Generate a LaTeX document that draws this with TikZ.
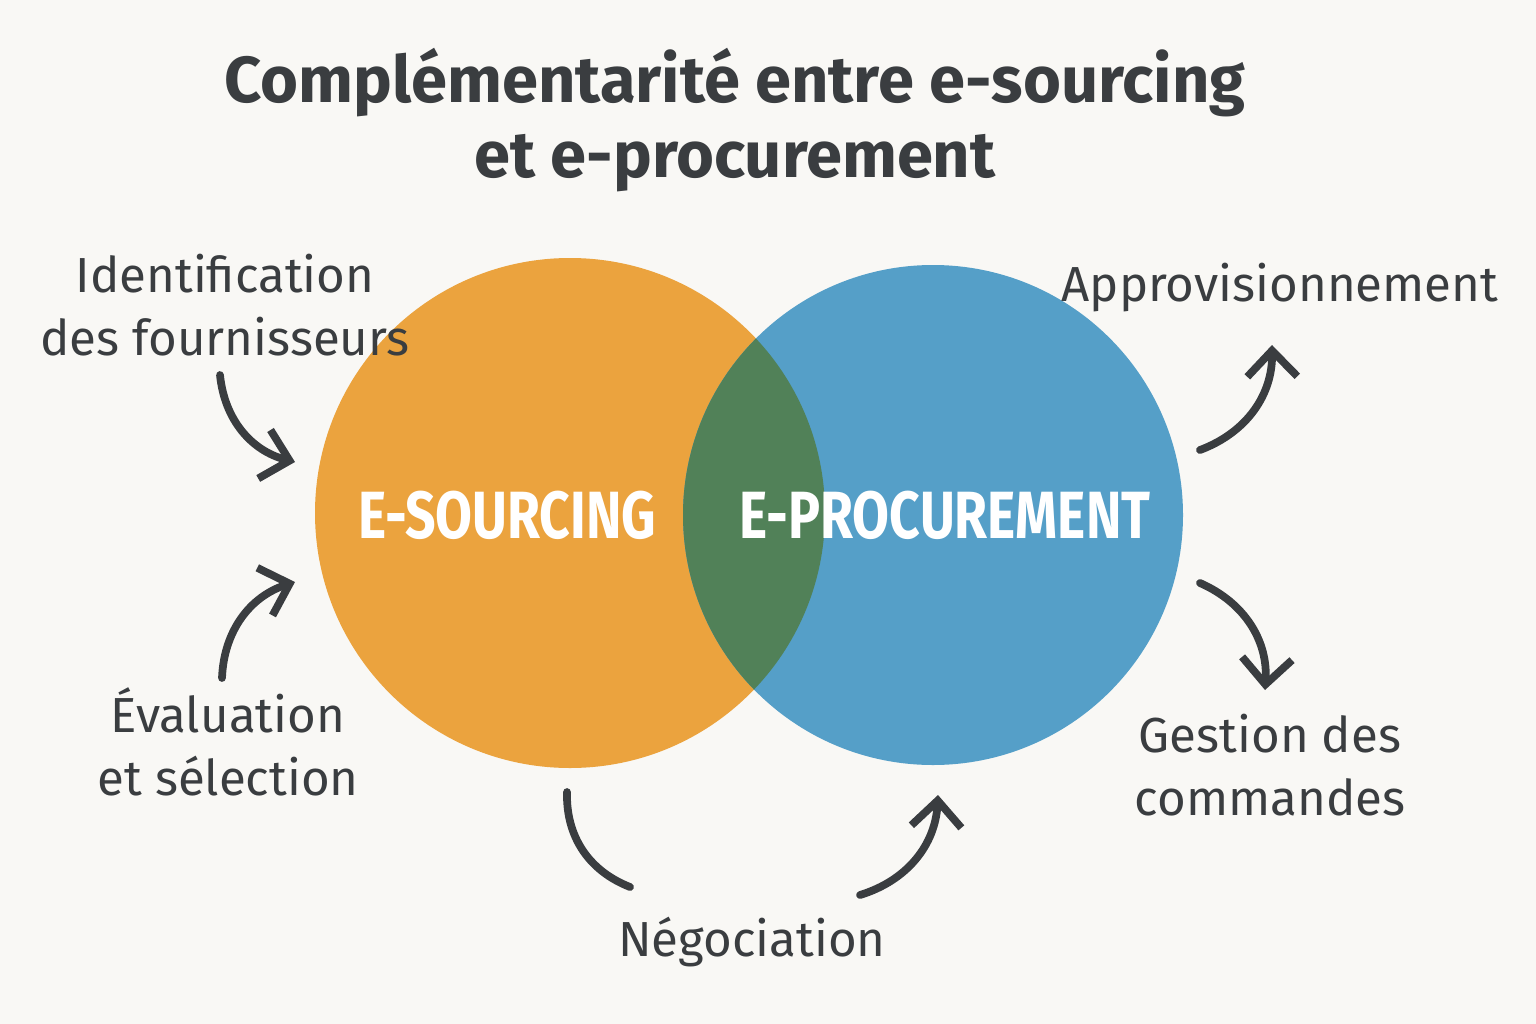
\documentclass[tikz,border=0pt]{standalone}
\usepackage{fontspec}
\setmainfont{Fira Sans}
\usetikzlibrary{arrows.meta}
\definecolor{bgc}{HTML}{F9F8F5}
\definecolor{orangec}{HTML}{EBA33E}
\definecolor{bluec}{HTML}{559FC8}
\definecolor{greenc}{HTML}{518158}
\definecolor{textc}{HTML}{3A3D40}
\tikzset{ lbl/.style = { align = center % side label
        , text = textc
        , font = \fontsize{14}{18}\selectfont
        , inner sep = 0pt
        }
        , big/.style = { text = white % circle name
        , font = \fontsize{19}{22}\selectfont\bfseries
        , transform shape
        , xscale = 0.8
        }
        , arr/.style = { draw = textc
        , line width = 2.2pt
        , line cap = round
        , -{Straight Barb[length=2.6mm,width=5mm]}
        }
        }
\begin{document}
\begin{tikzpicture}[x=0.01cm, y=-0.01cm]
        \fill [bgc] (0,0) rectangle (1536,1024);
        \useasboundingbox (0,0) rectangle (1536,1024);

        \fill [orangec] (570,513) circle (255);
        \fill [bluec] (933,515) circle (250);
        \begin{scope}
            \clip (570,513) circle (255);
            \fill [greenc] (933,515) circle (250);
        \end{scope}

        \node [text=textc, font=\fontsize{18.5}{21.5}\selectfont\bfseries, align=center] (title) at (735,120)
            {Complémentarité entre e-sourcing\\et e-procurement};

        \node [big] (src) at (507,515) {E-SOURCING};
        \node [big] (proc) at (945,515) {E-PROCUREMENT};

        \node [lbl] (ident) at (225,305) {Identification\\des fournisseurs};
        \node [lbl] (eval) at (228,742) {Évaluation\\et sélection};
        \node [lbl] (nego) at (752,942) {Négociation};
        \node [lbl] (appro) at (1280,288) {Approvisionnement};
        \node [lbl] (gest) at (1270,765) {Gestion des\\commandes};

        \coordinate (a1) at (220,375); \coordinate (b1) at (295,462);
        \coordinate (a2) at (222,678); \coordinate (b2) at (295,582);
        \coordinate (a3) at (567,792); \coordinate (b3) at (630,887);
        \coordinate (a4) at (860,895); \coordinate (b4) at (938,795);
        \coordinate (a5) at (1200,450); \coordinate (b5) at (1272,345);
        \coordinate (a6) at (1200,583); \coordinate (b6) at (1265,690);

        \draw [arr] (a1) to[bend right=35] (b1);
        \draw [arr] (a2) to[bend left=35] (b2);
        \draw [arr, -] (a3) to[bend right=35] (b3);
        \draw [arr] (a4) to[bend right=35] (b4);
        \draw [arr] (a5) to[bend right=35] (b5);
        \draw [arr] (a6) to[bend left=35] (b6);
\end{tikzpicture}
\end{document}
